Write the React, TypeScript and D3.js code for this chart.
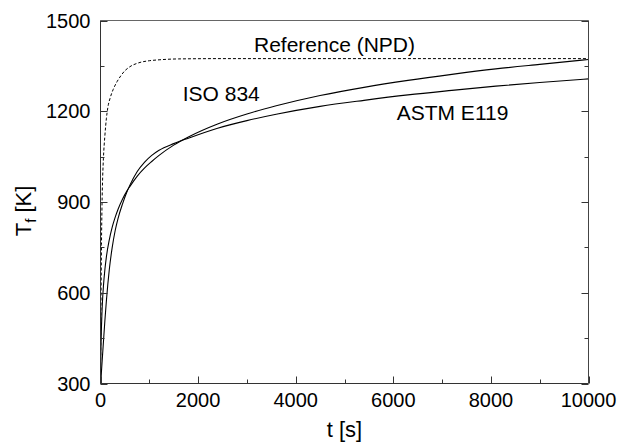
import React from "react";
import * as d3 from "d3";

// ---- data ----
const isoTimes = [0, 5, 10, 15, 30, 45, 60, 90, 120, 180, 240, 300, 360, 450, 540, 600, 750, 900, 1050, 1200, 1500, 1800, 2400, 3000, 3600, 4500, 5400, 6300, 7200, 8100, 9000, 10000];
const isoTemps = [293, 370, 420, 458, 534, 585, 622, 677, 718, 775, 817, 849, 876, 909, 936, 951, 985, 1012, 1034, 1054, 1088, 1115, 1158, 1191, 1218, 1252, 1279, 1302, 1322, 1340, 1355, 1371];

const astmTimes = [0, 30, 60, 90, 120, 150, 180, 240, 300, 360, 450, 540, 600, 750, 900, 1050, 1200, 1500, 1800, 2400, 3000, 3600, 4500, 5400, 6300, 7200, 8100, 9000, 10000];
const astmTemps = [293, 365, 437, 508, 572, 628, 676, 750, 805, 846, 893, 933, 955, 1000, 1031, 1054, 1071, 1093, 1111, 1144, 1169, 1190, 1216, 1236, 1254, 1269, 1283, 1295, 1307];

const npdTimes = [0, 10, 20, 30, 45, 60, 90, 120, 150, 200, 260, 340, 420, 500, 600, 780, 1000, 1200, 1600, 2500, 4000, 6000, 8000, 10000];
const npdTemps = [293, 560, 760, 880, 985, 1045, 1120, 1175, 1212, 1245, 1272, 1298, 1318, 1334, 1347, 1360, 1367, 1370, 1373, 1374, 1374, 1374, 1374, 1374];

const xMajorTicks = [0, 2000, 4000, 6000, 8000, 10000];
const xMinorTicks = [1000, 3000, 5000, 7000, 9000];
const yMajorTicks = [300, 600, 900, 1200, 1500];
const yMinorTicks = [450, 750, 1050, 1350];

const curveLabels = ["Reference (NPD)", "ISO 834", "ASTM E119"];
const labelTimes = [3145, 1685, 6070];
const labelTemps = [1397, 1235, 1170];

const W = 617;
const H = 442;
const M = { left: 100.5, right: 588.5, top: 20.5, bottom: 383.5 };

export default function App() {
  const x = d3.scaleLinear().domain([0, 10000]).range([M.left, M.right]);
  const y = d3.scaleLinear().domain([300, 1500]).range([M.bottom, M.top]);

  const mk = (ts: number[], vs: number[]) => ts.map((t, i) => [t, vs[i]] as [number, number]);
  const line = d3
    .line<[number, number]>()
    .x((d) => x(d[0]))
    .y((d) => y(d[1]))
    .curve(d3.curveMonotoneX);

  const axisColor = "#333";
  const font = "'Liberation Sans', Arial, Helvetica, sans-serif";

  return (
    <div style={{ position: "absolute", left: 0, top: 0 }}>
      <svg width={W} height={H} style={{ display: "block", background: "#fff" }} fontFamily={font}>
        <defs>
          <clipPath id="plotclip">
            <rect x={M.left} y={M.top} width={M.right - M.left} height={M.bottom - M.top} />
          </clipPath>
        </defs>

        {/* curves */}
        <g clipPath="url(#plotclip)" fill="none" stroke="#000" strokeWidth={1.1}>
          <path d={line(mk(npdTimes, npdTemps)) || ""} strokeDasharray="3,2" strokeWidth={1} />
          <path d={line(mk(isoTimes, isoTemps)) || ""} />
          <path d={line(mk(astmTimes, astmTemps)) || ""} />
        </g>

        {/* frame */}
        <line x1={M.left} x2={M.right} y1={M.top} y2={M.top} stroke="#666" strokeWidth={1} />
        <line x1={M.right} x2={M.right} y1={M.top} y2={M.bottom} stroke="#444" strokeWidth={1} />
        <line x1={M.left} x2={M.left} y1={M.top} y2={M.bottom} stroke={axisColor} strokeWidth={1} />
        <line x1={M.left} x2={M.right} y1={M.bottom} y2={M.bottom} stroke={axisColor} strokeWidth={1} />

        {/* ticks */}
        <g stroke={axisColor} strokeWidth={1}>
          {xMajorTicks.map((t) => (
            <line key={"xM" + t} x1={Math.round(x(t)) + 0.5} x2={Math.round(x(t)) + 0.5} y1={M.bottom} y2={M.bottom - 7} />
          ))}
          {xMinorTicks.map((t) => (
            <line key={"xm" + t} x1={Math.round(x(t)) + 0.5} x2={Math.round(x(t)) + 0.5} y1={M.bottom} y2={M.bottom - 4} />
          ))}
          {yMajorTicks.map((v) => (
            <g key={"yM" + v}>
              <line x1={M.left} x2={M.left + 7} y1={Math.round(y(v)) + 0.5} y2={Math.round(y(v)) + 0.5} />
              <line x1={M.right} x2={M.right - 7} y1={Math.round(y(v)) + 0.5} y2={Math.round(y(v)) + 0.5} />
            </g>
          ))}
          {yMinorTicks.map((v) => (
            <g key={"ym" + v}>
              <line x1={M.left} x2={M.left + 4} y1={Math.round(y(v)) + 0.5} y2={Math.round(y(v)) + 0.5} />
              <line x1={M.right} x2={M.right - 4} y1={Math.round(y(v)) + 0.5} y2={Math.round(y(v)) + 0.5} />
            </g>
          ))}
        </g>

        {/* tick labels */}
        <g fontSize={20} fill="#000">
          {xMajorTicks.map((t) => (
            <text key={"xl" + t} x={x(t)} y={M.bottom + 23} textAnchor="middle">
              {t}
            </text>
          ))}
          {yMajorTicks.map((v) => (
            <text key={"yl" + v} x={M.left - 10} y={y(v)} dy="0.35em" textAnchor="end">
              {v}
            </text>
          ))}
        </g>

        {/* axis titles */}
        <text x={(M.left + M.right) / 2} y={437} fontSize={22} textAnchor="middle" fill="#000">
          t [s]
        </text>
        <text transform="translate(30.5,211) rotate(-90)" fontSize={22} textAnchor="middle" fill="#000">
          <tspan>T</tspan>
          <tspan fontSize={15} dy={5}>f</tspan>
          <tspan dy={-5}> [K]</tspan>
        </text>

        {/* curve labels */}
        <g fontSize={21} fill="#000">
          {curveLabels.map((s, i) => (
            <text key={s} x={x(labelTimes[i])} y={y(labelTemps[i])}>
              {s}
            </text>
          ))}
        </g>
      </svg>
    </div>
  );
}
